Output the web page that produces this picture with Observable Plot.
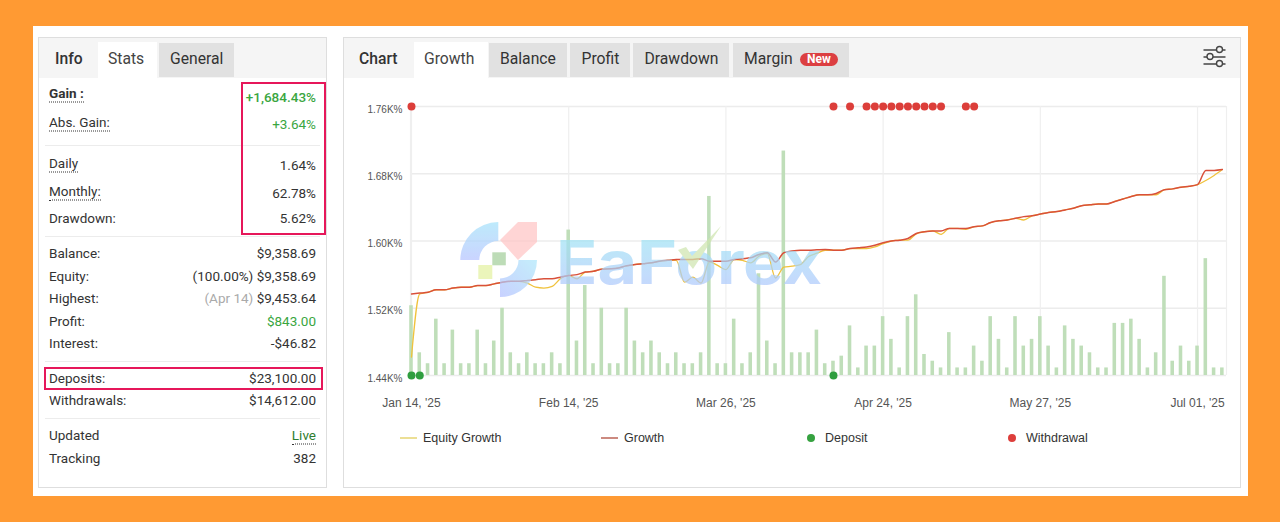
<!DOCTYPE html>
<html>
<head>
<meta charset="utf-8">
<script src="https://cdn.jsdelivr.net/npm/d3@7"></script>
<script src="https://cdn.jsdelivr.net/npm/@observablehq/plot@0.6"></script>
<style>
html,body{margin:0;padding:0;width:1280px;height:522px;overflow:hidden;background:#ff9a33;font-family:Roboto,sans-serif;color:#333}
.abs,.card,.panel,.strip,.tab,.l,.v,.hr,.box,.leg,.sw,.dot{position:absolute}
.card{left:33px;top:26px;width:1215px;height:470px;background:#fff}
.panel{border:1px solid #dedede;box-sizing:border-box;background:#fff}
.strip{background:#f5f5f5;top:38px;height:40px}
.tab{top:43px;height:34px;line-height:31px;font-size:15.7px;color:#333;white-space:nowrap;box-sizing:border-box}
.tab.g{background:#e1e1e1}
.tab.a{background:#fff;top:42px;height:37px;line-height:33px;color:#444}
.l{left:49px;font-size:13.5px;line-height:18px;white-space:nowrap;transform:translateY(-50%);color:#333}
.v{right:964px;font-size:13.5px;line-height:18px;white-space:nowrap;transform:translateY(-50%);color:#333}
.u{border-bottom:1.5px dotted #333}
.hr{left:45px;width:275px;height:1px;background:#ececec}
.box{border:2px solid #e6175a;box-sizing:border-box}
#plot{position:absolute;left:344px;top:95px;width:896px;height:320px}
#plot svg{overflow:visible;background:transparent;display:block}
.leg{top:438px;font:12.5px "Liberation Sans",Arial,sans-serif;color:#333;transform:translateY(-50%);white-space:nowrap}
.sw{top:437px;width:17px;height:2px}
.dot{top:434px;width:8px;height:8px;border-radius:50%}
</style>
</head>
<body>
<div class="card"></div>

<div class="panel" style="left:38px;top:37px;width:289px;height:451px"></div>
<div class="strip" style="left:39px;width:287px"></div>
<div class="tab" style="left:55px;font-weight:500">Info</div>
<div class="tab a" style="left:98px;width:59px;padding-left:10px">Stats</div>
<div class="tab g" style="left:159px;width:75px;padding-left:11px">General</div>

<div class="l u" style="top:93px;font-weight:700">Gain :</div>
<div class="v" style="top:96.5px;font-weight:500;color:#3aa63f">+1,684.43%</div>
<div class="l u" style="top:122px">Abs. Gain:</div>
<div class="v" style="top:124px;color:#3aa63f">+3.64%</div>
<div class="hr" style="top:145px"></div>
<div class="l u" style="top:162.5px">Daily</div>
<div class="v" style="top:165px">1.64%</div>
<div class="l u" style="top:190.5px">Monthly:</div>
<div class="v" style="top:193px">62.78%</div>
<div class="l" style="top:218px">Drawdown:</div>
<div class="v" style="top:218px">5.62%</div>
<div class="hr" style="top:236px"></div>
<div class="l" style="top:253px">Balance:</div>
<div class="v" style="top:253px">$9,358.69</div>
<div class="l" style="top:276px">Equity:</div>
<div class="v" style="top:276px">(100.00%) $9,358.69</div>
<div class="l" style="top:298px">Highest:</div>
<div class="v" style="top:298px"><span style="color:#aaa">(Apr 14)</span> $9,453.64</div>
<div class="l" style="top:320.5px">Profit:</div>
<div class="v" style="top:320.5px;color:#3aa63f">$843.00</div>
<div class="l" style="top:342.5px">Interest:</div>
<div class="v" style="top:342.5px">-$46.82</div>
<div class="hr" style="top:361px"></div>
<div class="l" style="top:378px">Deposits:</div>
<div class="v" style="top:378px">$23,100.00</div>
<div class="l" style="top:400px">Withdrawals:</div>
<div class="v" style="top:400px">$14,612.00</div>
<div class="hr" style="top:418px"></div>
<div class="l" style="top:435px">Updated</div>
<div class="v u" style="top:435px;color:#2f7d2f">Live</div>
<div class="l" style="top:457.5px">Tracking</div>
<div class="v" style="top:457.5px">382</div>
<div class="box" style="left:241px;top:82px;width:85px;height:153px"></div>
<div class="box" style="left:44px;top:367px;width:279px;height:23px"></div>

<div class="panel" style="left:343px;top:37px;width:898px;height:451px"></div>
<div class="strip" style="left:344px;width:896px"></div>
<div class="tab" style="left:359px;font-weight:500">Chart</div>
<div class="tab a" style="left:414px;width:74px;padding-left:10px">Growth</div>
<div class="tab g" style="left:489px;width:78px;padding-left:11px">Balance</div>
<div class="tab g" style="left:570px;width:60px;padding-left:11.5px">Profit</div>
<div class="tab g" style="left:633px;width:96px;padding-left:11.5px">Drawdown</div>
<div class="tab g" style="left:733px;width:116px;padding-left:11px">Margin</div>
<div class="abs" style="left:800px;top:53px;width:38px;height:13px;border-radius:7px;background:#dc3f41;color:#fff;font:700 12px/13px Roboto,sans-serif;text-align:center">New</div>
<svg class="abs" style="left:1200px;top:44px" width="30" height="26" viewBox="0 0 30 26" fill="#f5f5f5" stroke="#444" stroke-width="1.4">
  <path d="M3.5 6H25.5M3.5 13H25.5M3.5 20H25.5" fill="none"/>
  <circle cx="19.5" cy="5.5" r="3"/><circle cx="10" cy="12.5" r="3"/><circle cx="19.5" cy="19.5" r="3"/>
</svg>

<div id="plot"></div>

<svg class="abs" style="left:0;top:0;pointer-events:none" width="1280" height="522">
  <defs>
    <linearGradient id="wm" x1="0" y1="0" x2="0" y2="1"><stop offset="0.1" stop-color="#9fe6f4"/><stop offset="1" stop-color="#b3c3ff"/></linearGradient>
    <linearGradient id="wm2" x1="0" y1="0" x2="0" y2="1"><stop offset="0" stop-color="#a5e3fb"/><stop offset="1" stop-color="#b6c4ff"/></linearGradient>
    <linearGradient id="wm3" x1="1" y1="0" x2="0" y2="1"><stop offset="0" stop-color="#aee8fb"/><stop offset="1" stop-color="#b3c0ff"/></linearGradient>
  </defs>
  <g opacity="0.72">
    <path d="M460.3 260A38 38 0 0 1 498.3 222L498.3 241A19 19 0 0 0 479.3 260Z" fill="url(#wm2)"/>
    <path d="M518 222L537 222L537 242L518 260L500 240Z" fill="#ffc6c6"/>
    <path d="M537 260A37 37 0 0 1 500 297L500 278.5A18.5 18.5 0 0 0 518.5 260Z" fill="url(#wm3)"/>
    <rect x="492.3" y="252.3" width="13.5" height="13" fill="#a5cf9c"/>
    <rect x="478.3" y="265" width="14" height="14" fill="#e4f2a2"/>
    <text x="556" y="284" font-family="Inter, sans-serif" font-weight="700" font-size="60" textLength="266" lengthAdjust="spacingAndGlyphs" fill="url(#wm)">EaForex</text>
    <path d="M678 250L686 247L692 256L721 226L693 269Z" fill="#cfe6b0"/>
  </g>
</svg>

<div class="sw" style="left:400px;background:#ecdf95"></div><div class="leg" style="left:423px">Equity Growth</div>
<div class="sw" style="left:601px;background:#cc8a80"></div><div class="leg" style="left:624px">Growth</div>
<div class="dot" style="left:807px;background:#36a240"></div><div class="leg" style="left:825px">Deposit</div>
<div class="dot" style="left:1008px;background:#dd3e3b"></div><div class="leg" style="left:1026px">Withdrawal</div>

<script>
const yTicks = [1440, 1520, 1600, 1680, 1760];
const xTickIndex = [0, 19, 38, 57, 76, 95];
const xTickLabels = ["Jan 14, '25", "Feb 14, '25", "Mar 26, '25", "Apr 24, '25", "May 27, '25", "Jul 01, '25"];

const growth = [1537,1538,1539,1542,1542,1544,1545,1545,1547,1547,1549,1551,1552,1552,1553,1554,1555,1555,1557,1559,1560,1563,1564,1566.5,1567,1568,1570.5,1572,1573,1574,1576,1577,1578,1578,1578,1579,1576,1576,1576,1578,1579,1580,1584,1586,1575,1586,1588,1589,1589,1589.5,1590,1589,1589,1591,1592,1593,1595,1598,1600,1601,1603,1609,1611,1612,1612,1615,1615,1615,1617,1618,1622,1624,1625,1627,1629,1630,1632,1634,1635,1637,1639,1642,1643,1644,1644,1647,1650,1653,1655,1655,1656.5,1661,1662,1664,1665,1667,1684,1684,1685];
const equityGrowth = [1462,1537,1539,1542,1542,1544,1545,1545,1547,1547,1549,1551,1552,1552,1550,1545,1544,1546,1555,1559,1555,1563,1564,1566.5,1567,1568,1570.5,1572,1573,1574,1576,1577,1577,1551,1557,1550,1575,1571,1566,1578,1577,1574,1582,1585,1556,1569,1570,1572,1581.5,1585.5,1589,1589,1589,1591,1591,1591,1593,1597,1600,1601,1601,1608.5,1611,1612,1608,1615,1615,1614,1617,1618,1622,1624,1625,1627,1625,1630,1632,1634,1635,1637,1639,1642,1643,1644,1644,1647,1650,1653,1655,1655,1655,1661,1662,1664,1665,1667,1672,1678,1685];
const barValues = [83,27,14,67,14,54,14,14,54,14,41,80,27,14,27,14,14,27,14,173,41,107,14,80,14,14,80,41,27,41,27,14,27,14,14,27,213,14,14,67,14,27,121,41,14,267,27,27,27,54,14,17,23,59,9,35,35,70,43,9,70,96,25,17,9,51,9,9,35,17,70,43,9,70,35,43,70,35,9,59,43,35,27,9,9,62,62,67,43,9,27,118,17,35,17,35,139,9,9];
const depositIndex = [0, 1, 51];
const withdrawalIndex = [0, 51, 53, 55, 56, 57, 58, 59, 60, 61, 62, 63, 64, 67, 68];

const rows = growth.map((g, i) => ({i, growth: g, equity: equityGrowth[i], bar: 1440 + barValues[i]}));
const halfBar = 0.215;

const chart = Plot.plot({
  width: 896, height: 320,
  marginLeft: 66, marginRight: 14, marginTop: 11, marginBottom: 40,
  style: {background: "transparent", fontFamily: "'Liberation Sans', Arial, sans-serif", overflow: "visible"},
  x: {type: "linear", domain: [-0.12, 98.5]},
  y: {type: "linear", domain: [1440, 1760]},
  marks: [
    Plot.ruleY(yTicks, {stroke: "#ececec", strokeWidth: 1.5}),
    Plot.ruleX([...xTickIndex, 98.5, -0.12], {stroke: "#efefef", strokeWidth: 1.2}),
    Plot.rect(rows, {x1: d => d.i - halfBar, x2: d => d.i + halfBar, y1: () => 1440, y2: "bar", fill: "#bfdeb9"}),
    Plot.axisY({ticks: yTicks, tickSize: 0, tickPadding: 8, dy: 3, fontSize: 10, color: "#555", label: null, tickFormat: d => (d / 1000).toFixed(2) + "K%"}),
    Plot.axisX({ticks: xTickIndex, tickSize: 0, tickPadding: 23, fontSize: 12, color: "#555", label: null, tickFormat: d => xTickLabels[xTickIndex.indexOf(d)]}),
    Plot.line(rows, {x: "i", y: "equity", stroke: "#f0c23c", strokeWidth: 1.3, curve: "monotone-x"}),
    Plot.line(rows, {x: "i", y: "growth", stroke: "#d9503a", strokeWidth: 1.5, curve: "monotone-x"}),
    Plot.dot(depositIndex, {x: d => d, y: () => 1440, r: 4, fill: "#2f9e3f"}),
    Plot.dot(withdrawalIndex, {x: d => d, y: () => 1760, r: 4, fill: "#dc3e3a"})
  ]
});
document.getElementById("plot").appendChild(chart);
</script>
</body>
</html>
